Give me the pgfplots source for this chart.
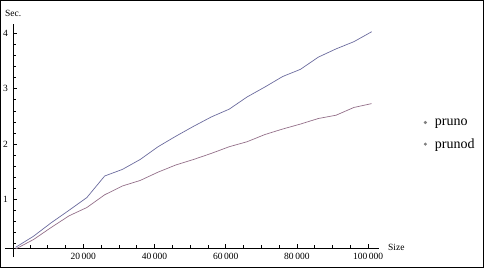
\documentclass[border=0pt]{standalone}
\usepackage{fontspec}
\setmainfont{Liberation Serif}
\usepackage{pgfplots}
\pgfplotsset{compat=1.18}
\usepackage{pgfplotstable}
\definecolor{cA}{rgb}{0.42,0.42,0.62}
\definecolor{cB}{rgb}{0.58,0.44,0.54}
\pgfplotstableread{
x y
1000 0.13
6000 0.33
11000 0.575
16000 0.80
21000 1.03
26000 1.42
31000 1.54
36000 1.72
41000 1.95
46000 2.14
51000 2.32
56000 2.49
61000 2.63
66000 2.85
71000 3.03
76000 3.22
81000 3.35
86000 3.57
91000 3.72
96000 3.85
101000 4.03
}\pruno
\pgfplotstableread{
x y
1000 0.10
6000 0.27
11000 0.49
16000 0.70
21000 0.85
26000 1.08
31000 1.24
36000 1.34
41000 1.49
46000 1.62
51000 1.72
56000 1.83
61000 1.95
66000 2.04
71000 2.17
76000 2.27
81000 2.36
86000 2.46
91000 2.52
96000 2.66
101000 2.73
}\prunod
\begin{document}
\begin{tikzpicture}
\useasboundingbox (-13.3pt,-21.3pt) rectangle (471.7pt,247.7pt);
\begin{axis}[
  scale only axis,
  width=365.7pt, height=223.7pt,
  xmin=340, xmax=103060,
  ymin=0.123, ymax=4.17,
  axis lines=left,
  clip=false,
  x axis line style={-, shorten <=-8.3pt},
  y axis line style={-, shorten <=-9.3pt},
  tick align=inside,
  major tick length=4pt,
  minor tick length=2.5pt,
  tick style={black, line width=0.5pt},
  scaled x ticks=false,
  scaled y ticks=false,
  xtick={20000,40000,60000,80000,100000},
  xticklabels={20\,000,40\,000,60\,000,80\,000,100\,000},
  minor xtick={5000,10000,15000,25000,30000,35000,45000,50000,55000,65000,70000,75000,85000,90000,95000},
  ytick={1,2,3,4},
  yticklabels={1,2,3,4},
  minor ytick={0.2,0.4,0.6,0.8,1.2,1.4,1.6,1.8,2.2,2.4,2.6,2.8,3.2,3.4,3.6,3.8},
  tick label style={font=\fontsize{9.5}{10}\selectfont},
  xticklabel style={yshift=-2pt},
  yticklabel style={xshift=-2pt},
  xlabel={Size},
  xlabel style={at={(rel axis cs:1,0)}, anchor=west, inner sep=0pt, xshift=9pt, font=\fontsize{9.5}{10}\selectfont},
  ylabel={Sec.},
  ylabel style={at={(rel axis cs:0,1)}, rotate=-90, anchor=west, inner sep=0pt, xshift=-8.3pt, yshift=11pt, font=\fontsize{9.5}{10}\selectfont},
  legend style={at={(1.122,0.508)}, anchor=west, draw=none, fill=none, inner sep=0pt,
    font=\fontsize{14}{16}\selectfont, row sep=8pt,
    /tikz/every odd column/.append style={column sep=6pt}},
  legend cell align=left,
  legend image code/.code={\fill[gray] (0pt,0pt) circle (1.2pt);},
]
\addplot[cA, line width=0.7pt] table[x=x,y=y] {\pruno};
\addlegendentry{pruno}
\addplot[cB, line width=0.7pt] table[x=x,y=y] {\prunod};
\addlegendentry{prunod}
\end{axis}
\draw[black, line width=1.3pt] (-12.6pt,-19.6pt) rectangle (470pt,247pt);
\end{tikzpicture}
\end{document}
